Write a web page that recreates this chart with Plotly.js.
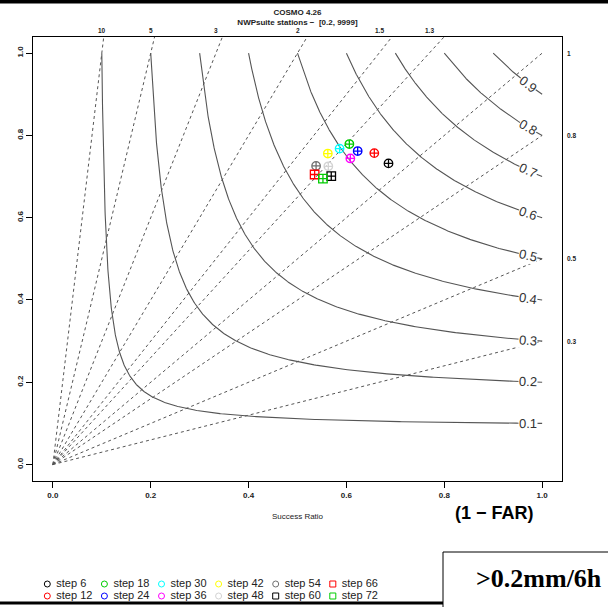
<!DOCTYPE html>
<html><head><meta charset="utf-8">
<script src="https://cdn.plot.ly/plotly-3.0.1.min.js"></script>
<style>html,body{margin:0;padding:0;background:#fff}</style>
</head><body><div id="chart" style="width:608px;height:607px"></div>
<script>
// ---- data ----
const steps = ['step 6','step 12','step 18','step 24','step 30','step 36','step 42','step 48','step 54','step 60','step 66','step 72'];
const successRatio = [0.686,0.657,0.606,0.623,0.586,0.608,0.562,0.563,0.538,0.569,0.535,0.552];
const probDetection = [0.732,0.757,0.779,0.762,0.768,0.744,0.756,0.725,0.726,0.701,0.705,0.695];
const stepColors = ['#000000','#FF0000','#00CD00','#0000FF','#00FFFF','#FF00FF','#FFFF00','#D3D3D3','#707070','#000000','#FF0000','#00CD00'];
const stepSymbols = ['circle','circle','circle','circle','circle','circle','circle','circle','circle','square','square','square'];
const csiLevels = [0.1,0.2,0.3,0.4,0.5,0.6,0.7,0.8,0.9];
const biasLevels = [0.3,0.5,0.8,1,1.3,1.5,2,3,5,10];
const axisTicks = [0,0.2,0.4,0.6,0.8,1.0];
const titleLines = ['COSMO 4.26','NWPsuite stations \u2212  [0.2, 9999]'];

// ---- figure geometry (pixels) ----
const W = 608, H = 607;
const PX = {left:33.3, right:561.7, top:36.7, bottom:481};
const px2x = p => p / W;
const px2y = p => 1 - p / H;
const xRange = [-0.04, 1.04], yRange = [-0.04, 1.04];
const pxPerX = (PX.right - PX.left) / (xRange[1] - xRange[0]);
const pxPerY = (PX.bottom - PX.top) / (yRange[1] - yRange[0]);

const csiPod = (c, sr) => 1 / (1 / c - 1 / sr + 1);

const traces = [];
// CSI isolines
csiLevels.forEach(c => {
  const xs = [], ys = [];
  const N = 400;
  for (let i = 0; i <= N; i++) {
    const t = i / N;
    const sr = c + (1 - c) * Math.pow(t, 3);
    xs.push(sr); ys.push(Math.min(1, csiPod(c, sr)));
  }
  traces.push({x: xs, y: ys, mode: 'lines', line: {color: '#555555', width: 1.1},
    hoverinfo: 'skip', showlegend: false, name: 'CSI ' + c});
});
// bias lines
biasLevels.forEach(b => {
  traces.push({x: [0, 1], y: [0, b], mode: 'lines',
    line: {color: '#555555', width: 1, dash: '3px,3px'},
    hoverinfo: 'skip', showlegend: false, name: 'bias ' + b});
});
// data points
steps.forEach((s, i) => {
  traces.push({x: [successRatio[i]], y: [probDetection[i]], mode: 'markers', name: s,
    marker: {symbol: stepSymbols[i] + '-cross-open', size: 8.5, color: stepColors[i], line: {width: 1.3, color: stepColors[i]}},
    showlegend: false});
});
// manual legend (two rows, column-major order)
const legX0 = 47.3, legPitch = 57.1, legY0 = 584, legRowGap = 12;
const legX = steps.map((s, i) => legX0 + Math.floor(i / 2) * legPitch);
const legY = steps.map((s, i) => legY0 + (i % 2) * legRowGap);
traces.push({x: legX, y: legY, xaxis: 'x2', yaxis: 'y2', mode: 'markers', hoverinfo: 'skip', showlegend: false,
  marker: {symbol: stepSymbols.map(s => s + '-open'), size: 6, color: stepColors, line: {width: 1, color: stepColors}}});
traces.push({x: legX.map(v => v + 9), y: legY, xaxis: 'x2', yaxis: 'y2', mode: 'text', text: steps,
  textposition: 'middle right', hoverinfo: 'skip', showlegend: false,
  textfont: {size: 11, color: '#222222', family: 'Liberation Sans, Arial, sans-serif'}});

// annotations
const annotations = [];
const labelSR = 0.972;
csiLevels.forEach(c => {
  const pod = csiPod(c, labelSR);
  const slope = pod * pod / (labelSR * labelSR);
  const ang = Math.atan(slope * pxPerY / pxPerX) * 180 / Math.PI;
  annotations.push({x: labelSR, y: pod, xref: 'x', yref: 'y', text: String(c), showarrow: false,
    xanchor: 'center', yanchor: 'middle',
    textangle: ang, bgcolor: '#ffffff', borderpad: 0,
    font: {size: 13, color: '#333333'}});
});
biasLevels.forEach(b => {
  if (b > 1) {
    annotations.push({x: 1 / b, y: px2y(30), xref: 'x', yref: 'paper', text: String(b), showarrow: false,
      xanchor: 'center', yanchor: 'middle',
      font: {size: 6.5, color: '#222222', weight: 'bold'}});
  } else {
    annotations.push({x: px2x(565), y: b, xref: 'paper', yref: 'y', text: String(b), xanchor: 'left', yanchor: 'middle', showarrow: false,
      font: {size: 6.5, color: '#222222', weight: 'bold'}});
  }
});
annotations.push({x: px2x(494), y: px2y(513), xref: 'paper', yref: 'paper', text: '(1 \u2212 FAR)', showarrow: false,
  xanchor: 'center', yanchor: 'middle',
  font: {size: 18, color: '#000000', weight: 'bold', family: 'Liberation Sans, Arial, sans-serif'}});
annotations.push({x: px2x(539), y: px2y(578), xref: 'paper', yref: 'paper', text: '>0.2mm/6h', showarrow: false,
  xanchor: 'center', yanchor: 'middle',
  font: {size: 26, color: '#000000', weight: 'bold', family: 'Liberation Serif, Times New Roman, serif'}});

const shapes = [
  {type: 'rect', xref: 'paper', yref: 'paper', x0: 0, x1: 1, y0: px2y(0), y1: px2y(3.5), fillcolor: '#000', line: {width: 0}},
  {type: 'rect', xref: 'paper', yref: 'paper', x0: 0, x1: px2x(443), y0: px2y(601.5), y1: px2y(604.5), fillcolor: '#000', line: {width: 0}},
  {type: 'rect', xref: 'paper', yref: 'paper', x0: px2x(443), x1: px2x(612), y0: px2y(552), y1: px2y(612), line: {width: 1, color: '#000'}}
];

const axisCommon = {range: xRange, showgrid: false, zeroline: false, showline: true, mirror: true,
  linecolor: '#000', linewidth: 1, ticks: 'outside', ticklen: 6, tickwidth: 1, tickcolor: '#000',
  tickvals: axisTicks, tickformat: '.1f', tickfont: {size: 8, color: '#222', weight: 'bold'}};

const layout = {
  width: W, height: H,
  margin: {l: 0, r: 0, t: 0, b: 0},
  paper_bgcolor: '#ffffff', plot_bgcolor: 'rgba(0,0,0,0)',
  font: {family: 'Liberation Sans, Arial, sans-serif', color: '#222'},
  title: {text: titleLines.join('<br>'), x: px2x((PX.left + PX.right) / 2), xref: 'paper', xanchor: 'center',
    y: px2y(14.5), yref: 'container', yanchor: 'middle', font: {size: 8, weight: 'bold', color: '#222'}},
  xaxis: Object.assign({}, axisCommon, {domain: [px2x(PX.left), px2x(PX.right)], anchor: 'y',
    title: {text: 'Success Ratio', font: {size: 8, color: '#222'}, standoff: 14}}),
  yaxis: Object.assign({}, axisCommon, {range: yRange, domain: [px2y(PX.bottom), px2y(PX.top)], anchor: 'x', tickangle: -90}),
  xaxis2: {domain: [0, 1], range: [0, W], visible: false, anchor: 'y2', fixedrange: true},
  yaxis2: {domain: [0, px2y(560)], range: [H, 560], visible: false, anchor: 'x2', fixedrange: true},
  annotations: annotations,
  shapes: shapes,
  showlegend: false
};

Plotly.newPlot('chart', traces, layout, {staticPlot: true, displayModeBar: false});
</script>
</body></html>
